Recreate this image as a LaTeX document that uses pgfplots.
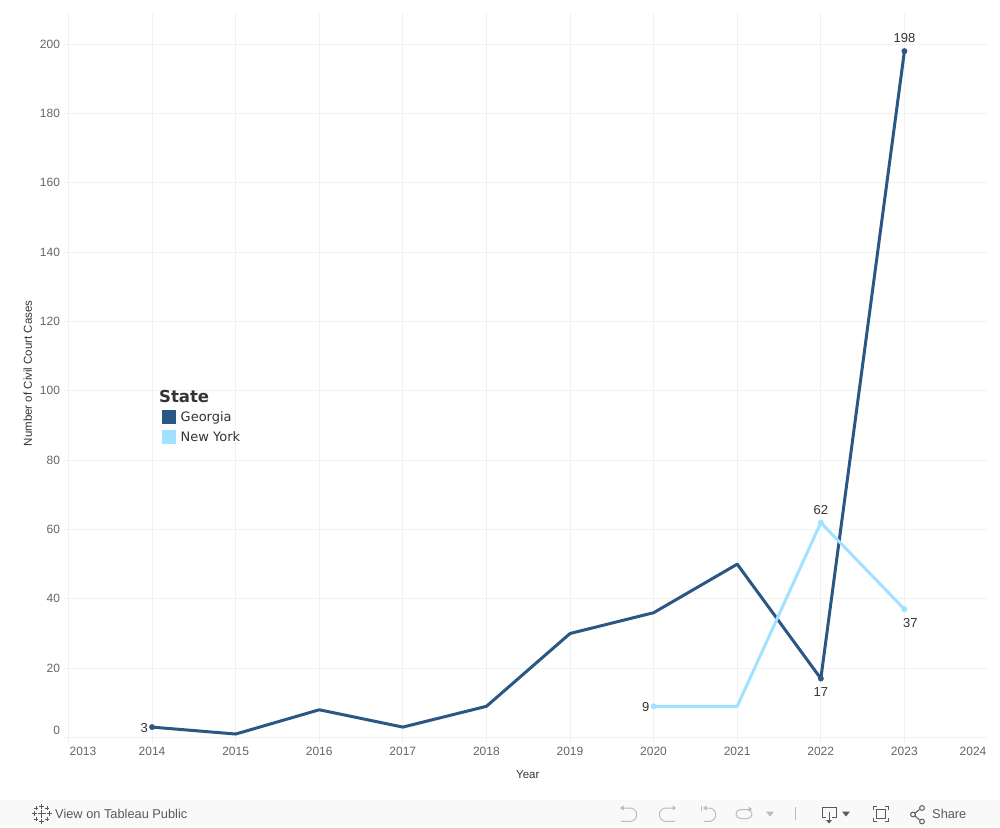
\documentclass[border=0pt]{standalone}
\usepackage{pgfplots}
\usepackage{fontspec}
\pgfplotsset{compat=1.18}
\setmainfont{Liberation Sans}
\newfontfamily\legfont{DejaVu Sans}
\definecolor{gridc}{HTML}{F1F1F1}
\definecolor{ga}{HTML}{2A5783}
\definecolor{ny}{HTML}{A0E2FF}
\definecolor{tick}{HTML}{666666}
\definecolor{lab}{HTML}{333333}
\definecolor{bar}{HTML}{F9F9F9}
\definecolor{ictl}{HTML}{BBBBBB}
\definecolor{icd}{HTML}{5A5A5A}
\begin{document}
\begin{tikzpicture}[x=1pt,y=1pt]
\path[use as bounding box] (0,0) rectangle (1000,827);
\fill[white] (0,0) rectangle (1000,827);
\fill[bar] (0,0) rectangle (1000,27);
\begin{axis}[
  at={(68.5pt,89.5pt)}, anchor=south west,
  scale only axis, width=919.5pt, height=724.5pt,
  xmin=2013, xmax=2024, ymin=0, ymax=209,
  axis x line=bottom, axis y line=left, axis line style={-, draw=gridc},
  grid=major, grid style={draw=gridc, line width=0.8pt},
  tick style={draw=gridc, line width=0.8pt},
  major tick length=5pt,
  tick align=outside,
  xtick={2013,...,2023},
  xticklabels={\hspace*{29pt}2013,2014,2015,2016,2017,2018,2019,2020,2021,2022,2023},
  extra x ticks={2024},
  extra x tick labels={2024\hspace*{30pt}},
  extra x tick style={grid=none, major tick length=0pt, xticklabel style={yshift=-5pt}},
  ytick={0,20,...,200},
  yticklabels={\raisebox{14pt}{0},20,40,60,80,100,120,140,160,180,200},
  tick label style={font=\fontsize{12}{14}\selectfont, text=tick},
  x tick label style={yshift=-1pt},
  xlabel={Year}, ylabel={Number of Civil Court Cases},
  label style={font=\fontsize{11.5}{14}\selectfont, text=lab},
  xlabel style={at={(axis description cs:0.4995,0)}, anchor=north, yshift=-30pt},
  ylabel style={at={(axis description cs:0,0.5)}, anchor=south, yshift=33pt, xshift=2pt},
  clip=false,
  legend style={at={(axis cs:2014.115,100.8)}, anchor=north west, draw=none, fill=none,
    font=\legfont\fontsize{13}{15}\selectfont, text=lab, inner sep=0pt, outer sep=0pt,
    row sep=2.5pt, legend cell align=left},
  legend image code/.code={\path[fill=none,draw=none] (0pt,-8.75pt) rectangle (14pt,8.75pt); \fill[#1] (0pt,-7pt) rectangle (14pt,7pt);},
]
\addlegendimage{empty legend}
\addlegendentry{\hspace*{-18.5pt}\fontsize{16.5}{18}\selectfont\bfseries State}
\addplot[ga, line width=3pt, line join=round, forget plot] table[x=year,y=v] {
year v
2014 3
2015 1
2016 8
2017 3
2018 9
2019 30
2020 36
2021 50
2022 17
2023 198
};
\addplot[ny, line width=3pt, line join=round, forget plot] table[x=year,y=v] {
year v
2020 9
2021 9
2022 62
2023 37
};
% marked points with labels
\pgfplotsset{lblbase/.style={only marks, mark=*, mark size=2.7pt, point meta=explicit symbolic,
   nodes near coords, forget plot,
   nodes near coords style={font=\fontsize{13}{15}\selectfont, text=lab, inner sep=0pt}}}
\addplot[lblbase, ga, mark options={fill=ga,draw=ga},
   nodes near coords style={anchor=east, xshift=-4pt,yshift=-0.5pt}] table[meta=l] {
x y l
2014 3 3
};
\addplot[lblbase, ga, mark options={fill=ga,draw=ga},
   nodes near coords style={anchor=north, yshift=-9pt}] table[meta=l] {
x y l
2022 17 17
};
\addplot[lblbase, ga, mark options={fill=ga,draw=ga},
   nodes near coords style={anchor=south, yshift=8pt}] table[meta=l] {
x y l
2023 198 198
};
\addplot[lblbase, ny, mark options={fill=ny,draw=ny},
   nodes near coords style={anchor=east, xshift=-4pt,yshift=-0.5pt}] table[meta=l] {
x y l
2020 9 9
};
\addplot[lblbase, ny, mark options={fill=ny,draw=ny},
   nodes near coords style={anchor=south, yshift=8pt}] table[meta=l] {
x y l
2022 62 62
};
\addplot[lblbase, ny, mark options={fill=ny,draw=ny},
   nodes near coords style={anchor=north, yshift=-9pt,xshift=6pt}] table[meta=l] {
x y l
2023 37 37
};
\addlegendimage{ga, fill=ga, draw=none}
\addlegendentry{\hspace*{3pt}Georgia}
\addlegendimage{ny, fill=ny, draw=none}
\addlegendentry{\hspace*{3pt}New York}
\end{axis}
% toolbar, drawn in image pixel coordinates
\begin{scope}[shift={(0pt,827pt)}, y=-1pt, x=1pt]
\node[anchor=west, inner sep=0pt, font=\fontsize{12.8}{14}\selectfont, text=icd] at (55,813.5) {View on Tableau Public};
\node[anchor=west, inner sep=0pt, font=\fontsize{12.8}{14}\selectfont, text=icd] at (932,813.5) {Share};
% tableau logo
\begin{scope}[icd, line width=0.9pt]
\foreach \cx/\cy/\r in {41.5/813.5/4, 41.5/806/2.5, 41.5/821/2.5, 34/813.5/2.5, 49/813.5/2.5, 36/808/1.6, 47/808/1.6, 36/819/1.6, 47/819/1.6}{
  \draw (\cx-\r,\cy) -- (\cx+\r,\cy);
  \draw (\cx,\cy-\r) -- (\cx,\cy+\r);
}
\end{scope}
% undo, redo, replay, refresh
\begin{scope}[ictl, line width=1pt]
\draw (621,808) -- (630,808) .. controls (633.7,808) and (636.7,811) .. (636.7,814.7) .. controls (636.7,818.4) and (633.7,821.4) .. (630,821.4) -- (621,821.4);
\fill (620,808) -- (623.5,805.5) -- (623.5,810.5) -- cycle;
\draw (675,808) -- (666,808) .. controls (662.3,808) and (659.3,811) .. (659.3,814.7) .. controls (659.3,818.4) and (662.3,821.4) .. (666,821.4) -- (675,821.4);
\fill (676,808) -- (672.5,805.5) -- (672.5,810.5) -- cycle;
\draw (701,806) -- (701,811);
\draw (704,808) -- (709,808) .. controls (712.7,808) and (715.7,811) .. (715.7,814.7) .. controls (715.7,818.4) and (712.7,821.4) .. (709,821.4) -- (704,821.4);
\fill (703,808) -- (706.5,805.5) -- (706.5,810.5) -- cycle;
\draw (741,809.5) -- (747,809.5) .. controls (750,809.5) and (752,811.5) .. (752,814) .. controls (752,816.5) and (750,818.5) .. (747,818.5) -- (741,818.5) .. controls (738,818.5) and (736,816.5) .. (736,814) .. controls (736,811.5) and (738,809.5) .. (741,809.5);
\fill (752,809) -- (748.5,806.5) -- (748.5,811.5) -- cycle;
\fill (766,811.5) -- (774,811.5) -- (770,816.5) -- cycle;
\draw (795.5,807) -- (795.5,820);
\end{scope}
\begin{scope}[icd, line width=1pt]
\draw (826,817) -- (822.5,817) -- (822.5,807) -- (836.5,807) -- (836.5,817) -- (832,817);
\draw (829,812) -- (829,822);
\fill (826,820) -- (832,820) -- (829,823.5) -- cycle;
\fill (842,811.5) -- (850,811.5) -- (846,816.5) -- cycle;
\draw (877,806.5) -- (873.5,806.5) -- (873.5,810);
\draw (885,806.5) -- (888.5,806.5) -- (888.5,810);
\draw (877,821.5) -- (873.5,821.5) -- (873.5,818);
\draw (885,821.5) -- (888.5,821.5) -- (888.5,818);
\draw (876.5,809.5) rectangle (885.5,818.5);
\draw (914.5,813.5) -- (919.5,809.5);
\draw (914.5,815.5) -- (919.5,820);
\draw (913,814.5) circle[radius=2.4];
\draw (922,808) circle[radius=2.4];
\draw (922,821.5) circle[radius=2.4];
\end{scope}
\end{scope}
\end{tikzpicture}
\end{document}
